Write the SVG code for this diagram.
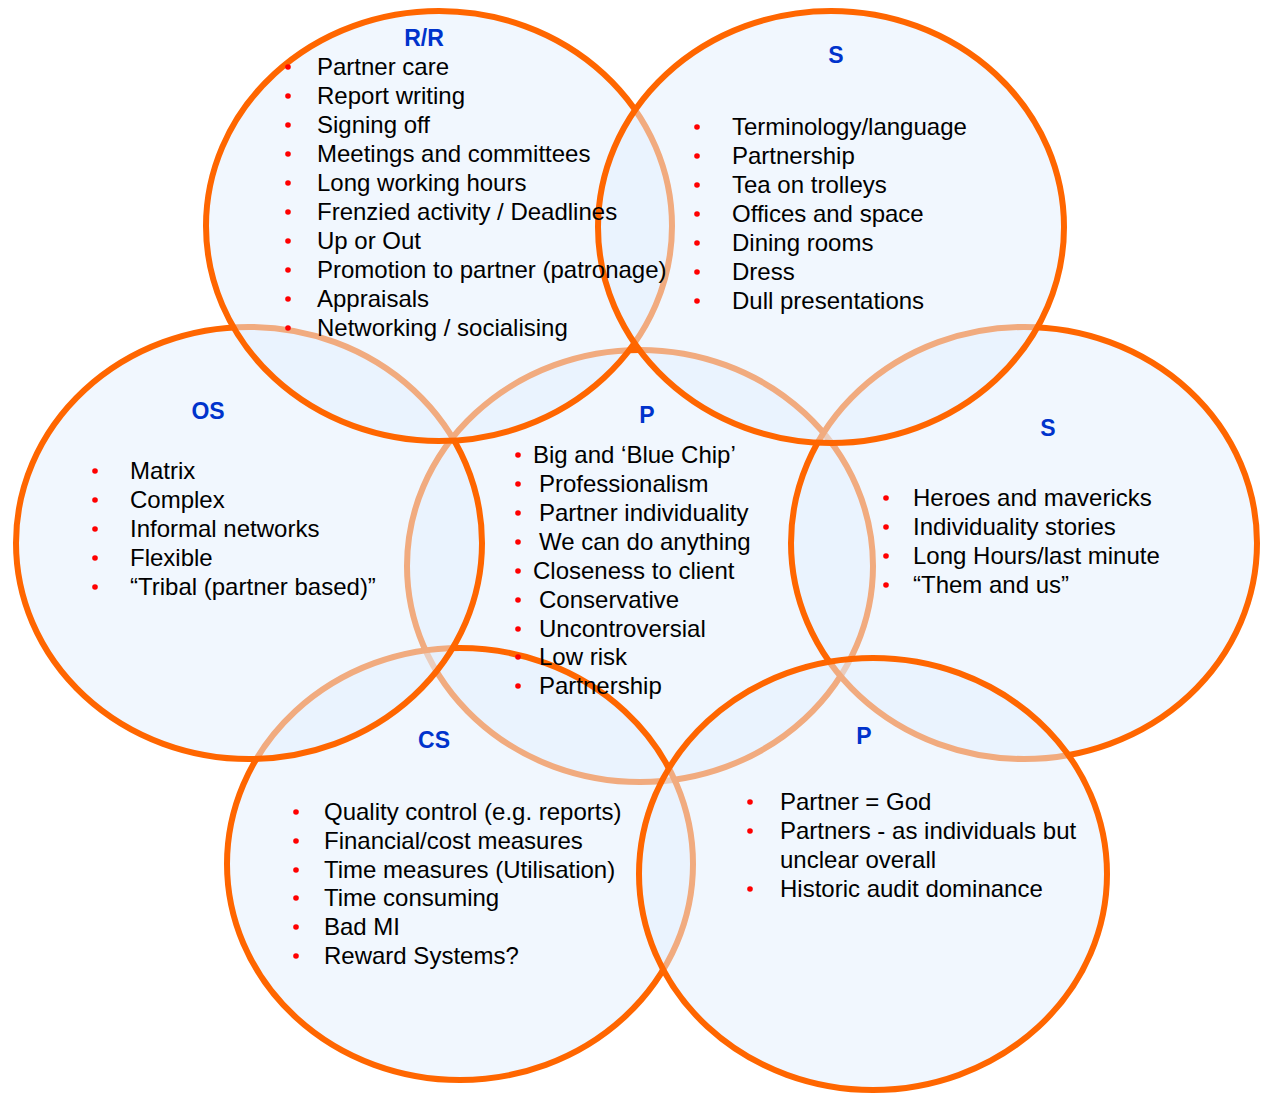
<svg xmlns="http://www.w3.org/2000/svg" width="1283" height="1099" viewBox="0 0 1283 1099">
<style>
.c{fill:rgb(228,240,253);fill-opacity:0.5;stroke:#FF6600;stroke-width:6}
.h{font-family:"Liberation Sans",Arial,sans-serif;font-size:23px;font-weight:bold;fill:#0033CC;text-anchor:middle}
.t{font-family:"Liberation Sans",Arial,sans-serif;font-size:24px;fill:#000}
.b{fill:#FF0000}
</style>
<rect width="1283" height="1099" fill="#FFFFFF"/>
<g id="shapes">
<ellipse id="shape-p-center" class="c" cx="640" cy="566" rx="233" ry="216"/>
<ellipse id="shape-cs" class="c" cx="460" cy="864" rx="233" ry="216"/>
<ellipse id="shape-s-right" class="c" cx="1024" cy="543" rx="233" ry="216"/>
<ellipse id="shape-os" class="c" cx="249" cy="543" rx="233" ry="216"/>
<ellipse id="shape-rr" class="c" cx="439" cy="226" rx="233" ry="215"/>
<ellipse id="shape-s-top" class="c" cx="831" cy="227" rx="233" ry="216"/>
<ellipse id="shape-p-br" class="c" cx="873" cy="874" rx="234" ry="216"/>
</g>
<g id="connectors"></g>
<g id="node-rr">
<text class="h" x="424" y="46">R/R</text>
<g class="b"><circle cx="288" cy="67" r="2.8"/><circle cx="288" cy="96" r="2.8"/><circle cx="288" cy="125" r="2.8"/><circle cx="288" cy="154" r="2.8"/><circle cx="288" cy="183" r="2.8"/><circle cx="288" cy="212" r="2.8"/><circle cx="288" cy="241" r="2.8"/><circle cx="288" cy="270" r="2.8"/><circle cx="288" cy="299" r="2.8"/><circle cx="288" cy="328" r="2.8"/></g>
<text class="t" x="317" y="75">Partner care</text>
<text class="t" x="317" y="104">Report writing</text>
<text class="t" x="317" y="133">Signing off</text>
<text class="t" x="317" y="162">Meetings and committees</text>
<text class="t" x="317" y="191">Long working hours</text>
<text class="t" x="317" y="220">Frenzied activity / Deadlines</text>
<text class="t" x="317" y="249">Up or Out</text>
<text class="t" x="317" y="278">Promotion to partner (patronage)</text>
<text class="t" x="317" y="307">Appraisals</text>
<text class="t" x="317" y="336">Networking / socialising</text>
</g>
<g id="node-s-top">
<text class="h" x="836" y="63">S</text>
<g class="b"><circle cx="697" cy="127" r="2.8"/><circle cx="697" cy="156" r="2.8"/><circle cx="697" cy="185" r="2.8"/><circle cx="697" cy="214" r="2.8"/><circle cx="697" cy="243" r="2.8"/><circle cx="697" cy="272" r="2.8"/><circle cx="697" cy="301" r="2.8"/></g>
<text class="t" x="732" y="135">Terminology/language</text>
<text class="t" x="732" y="164">Partnership</text>
<text class="t" x="732" y="193">Tea on trolleys</text>
<text class="t" x="732" y="222">Offices and space</text>
<text class="t" x="732" y="251">Dining rooms</text>
<text class="t" x="732" y="280">Dress</text>
<text class="t" x="732" y="309">Dull presentations</text>
</g>
<g id="node-os">
<text class="h" x="208" y="419">OS</text>
<g class="b"><circle cx="95" cy="471" r="2.8"/><circle cx="95" cy="500" r="2.8"/><circle cx="95" cy="529" r="2.8"/><circle cx="95" cy="558" r="2.8"/><circle cx="95" cy="587" r="2.8"/></g>
<text class="t" x="130" y="479">Matrix</text>
<text class="t" x="130" y="508">Complex</text>
<text class="t" x="130" y="537">Informal networks</text>
<text class="t" x="130" y="566">Flexible</text>
<text class="t" x="130" y="595">“Tribal (partner based)”</text>
</g>
<g id="node-p-center">
<text class="h" x="647" y="423">P</text>
<g class="b"><circle cx="518" cy="455" r="2.8"/><circle cx="518" cy="484" r="2.8"/><circle cx="518" cy="513" r="2.8"/><circle cx="518" cy="542" r="2.8"/><circle cx="518" cy="571" r="2.8"/><circle cx="518" cy="600" r="2.8"/><circle cx="518" cy="629" r="2.8"/><circle cx="518" cy="657" r="2.8"/><circle cx="518" cy="686" r="2.8"/></g>
<text class="t" x="533" y="463">Big and ‘Blue Chip’</text>
<text class="t" x="539" y="492">Professionalism</text>
<text class="t" x="539" y="521">Partner individuality</text>
<text class="t" x="539" y="550">We can do anything</text>
<text class="t" x="533" y="579">Closeness to client</text>
<text class="t" x="539" y="608">Conservative</text>
<text class="t" x="539" y="637">Uncontroversial</text>
<text class="t" x="539" y="665">Low risk</text>
<text class="t" x="539" y="694">Partnership</text>
</g>
<g id="node-s-right">
<text class="h" x="1048" y="436">S</text>
<g class="b"><circle cx="886" cy="498" r="2.8"/><circle cx="886" cy="527" r="2.8"/><circle cx="886" cy="556" r="2.8"/><circle cx="886" cy="585" r="2.8"/></g>
<text class="t" x="913" y="506">Heroes and mavericks</text>
<text class="t" x="913" y="535">Individuality stories</text>
<text class="t" x="913" y="564">Long Hours/last minute</text>
<text class="t" x="913" y="593">“Them and us”</text>
</g>
<g id="node-cs">
<text class="h" x="434" y="748">CS</text>
<g class="b"><circle cx="296" cy="812" r="2.8"/><circle cx="296" cy="841" r="2.8"/><circle cx="296" cy="870" r="2.8"/><circle cx="296" cy="898" r="2.8"/><circle cx="296" cy="927" r="2.8"/><circle cx="296" cy="956" r="2.8"/></g>
<text class="t" x="324" y="820">Quality control (e.g. reports)</text>
<text class="t" x="324" y="849">Financial/cost measures</text>
<text class="t" x="324" y="878">Time measures (Utilisation)</text>
<text class="t" x="324" y="906">Time consuming</text>
<text class="t" x="324" y="935">Bad MI</text>
<text class="t" x="324" y="964">Reward Systems?</text>
</g>
<g id="node-p-br">
<text class="h" x="864" y="744">P</text>
<g class="b"><circle cx="750" cy="802" r="2.8"/><circle cx="750" cy="831" r="2.8"/><circle cx="750" cy="889" r="2.8"/></g>
<text class="t" x="780" y="810">Partner = God</text>
<text class="t" x="780" y="839">Partners - as individuals but</text>
<text class="t" x="780" y="868">unclear overall</text>
<text class="t" x="780" y="897">Historic audit dominance</text>
</g>
</svg>
